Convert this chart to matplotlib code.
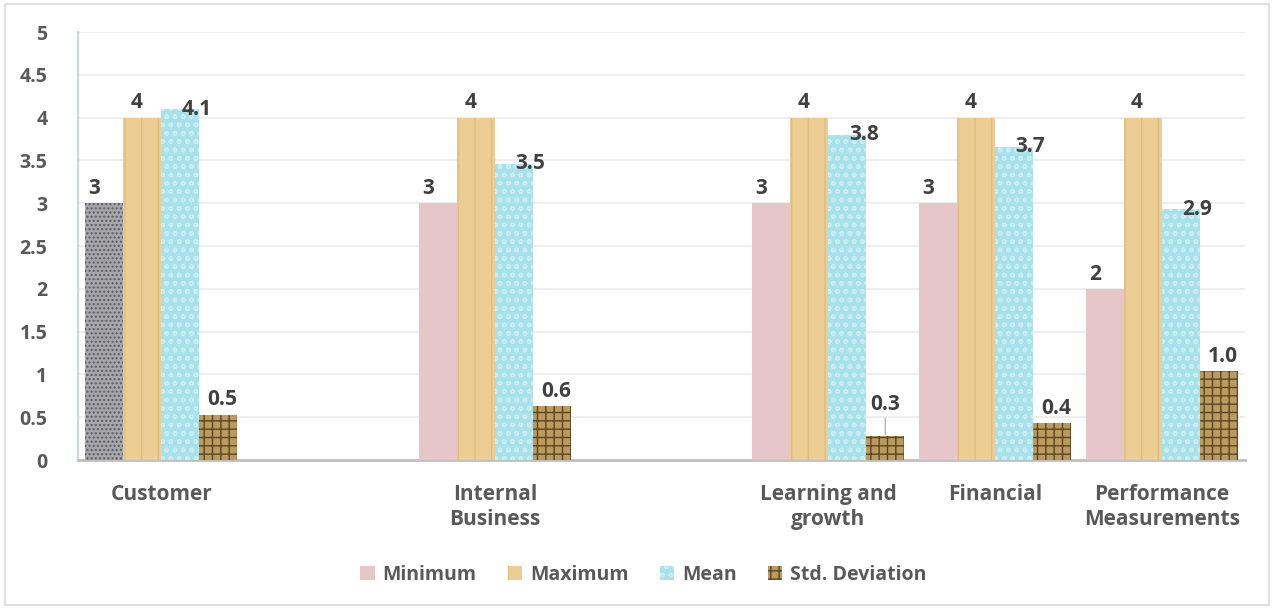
import numpy as np
import matplotlib
matplotlib.use("Agg")
import matplotlib.pyplot as plt
from matplotlib.patches import Rectangle, Patch

plt.rcParams["font.family"] = ["Open Sans", "DejaVu Sans"]
plt.rcParams["hatch.linewidth"] = 1.0

# Excel source has blank rows between some categories
categories = ["Customer", "", "Internal\nBusiness", "", "Learning and\ngrowth",
              "Financial", "Performance\nMeasurements"]
series = ["Minimum", "Maximum", "Mean", "Std. Deviation"]
minimum = [3, np.nan, 3, np.nan, 3, 3, 2]
maximum = [4, np.nan, 4, np.nan, 4, 4, 4]
mean = [4.10, np.nan, 3.46, np.nan, 3.80, 3.66, 2.93]
std_dev = [0.53, np.nan, 0.63, np.nan, 0.28, 0.43, 1.04]
yticks = [0, 0.5, 1, 1.5, 2, 2.5, 3, 3.5, 4, 4.5, 5]

values = [minimum, maximum, mean, std_dev]
fmts = ["{:.0f}", "{:.0f}", "{:.1f}", "{:.1f}"]
faces = ["#E6C6C8", "#ECCD94", "#A9E1EB", "#B99A5F"]
hatch_cols = ["#E6C6C8", "#E0BE80", "#C9EEF4", "#5E4520"]
hatches = [None, "|", "oo", "++"]
# rough match of where Excel put each series' labels (points)
label_off = [(-7, 3), (-4, 3), (12, 0), (3, 3)]
label_va = ["bottom", "bottom", "center", "bottom"]

fig = plt.figure(figsize=(12.74, 6.10), dpi=100)
fig.patches.append(Rectangle((0.004, 0.008), 0.992, 0.985, transform=fig.transFigure,
                             fill=False, edgecolor="#D9D9D9", linewidth=1.2))
ax = fig.add_axes([78 / 1274, 150 / 610, 1167 / 1274, 428 / 610])

x = np.arange(len(categories))
w = 0.228
txt_col = "#404040"
for i, (vals, name) in enumerate(zip(values, series)):
    pos = x + (i - 1.5) * w
    bars = ax.bar(pos, vals, width=w, color=faces[i], edgecolor=hatch_cols[i],
                  hatch=hatches[i], linewidth=0, label=name, zorder=3)
    for b, v in zip(bars, vals):
        if np.isnan(v):
            continue
        if name == "Std. Deviation" and v < 0.3:
            ax.annotate(fmts[i].format(v), xy=(b.get_x() + w / 2, v),
                        xytext=(0, 15), textcoords="offset points", ha="center",
                        va="bottom", fontsize=15, fontweight="bold", color=txt_col,
                        arrowprops=dict(arrowstyle="-", color="#A6A6A6", lw=0.8,
                                        shrinkA=0, shrinkB=1))
            continue
        ax.annotate(fmts[i].format(v), xy=(b.get_x() + w / 2, v),
                    xytext=label_off[i], textcoords="offset points",
                    ha="center", va=label_va[i], fontsize=15, fontweight="bold",
                    color=txt_col)

# first Minimum bar carries a granite texture in the original
first = ax.patches[0]
first.set_facecolor("#A7A7AB")
first.set_edgecolor("#5A5A5E")
first.set_hatch("....")

ax.set_xlim(-0.5, len(categories) - 0.5)
ax.set_ylim(0, 5)
ax.set_yticks(yticks)
ax.set_yticklabels([f"{t:g}" for t in yticks], fontsize=14, fontweight="bold",
                   color="#595959")
ax.set_xticks(x)
ax.set_xticklabels(categories, fontsize=15, fontweight="bold", color="#595959",
                   linespacing=1.3)
ax.tick_params(axis="both", length=0)
ax.tick_params(axis="x", pad=17)
ax.tick_params(axis="y", pad=22)
ax.grid(axis="y", color="#EBEBEB", linewidth=1.2, zorder=0)
for s in ["top", "right"]:
    ax.spines[s].set_visible(False)
ax.spines["left"].set_color("#C9D6EA")
ax.spines["left"].set_linewidth(1.5)
ax.spines["bottom"].set_color("#BFBFBF")
ax.spines["bottom"].set_linewidth(2)

handles = [Patch(facecolor=faces[i], edgecolor=hatch_cols[i], hatch=hatches[i],
                 linewidth=0, label=series[i]) for i in range(4)]
fig.legend(handles=handles, loc="center", bbox_to_anchor=(0.505, 0.058), ncol=4,
           frameon=False, handlelength=0.75, handleheight=0.75, columnspacing=1.6,
           handletextpad=0.4, prop={"size": 14, "weight": "bold"},
           labelcolor="#595959")

fig.savefig("out.png", dpi=100)
